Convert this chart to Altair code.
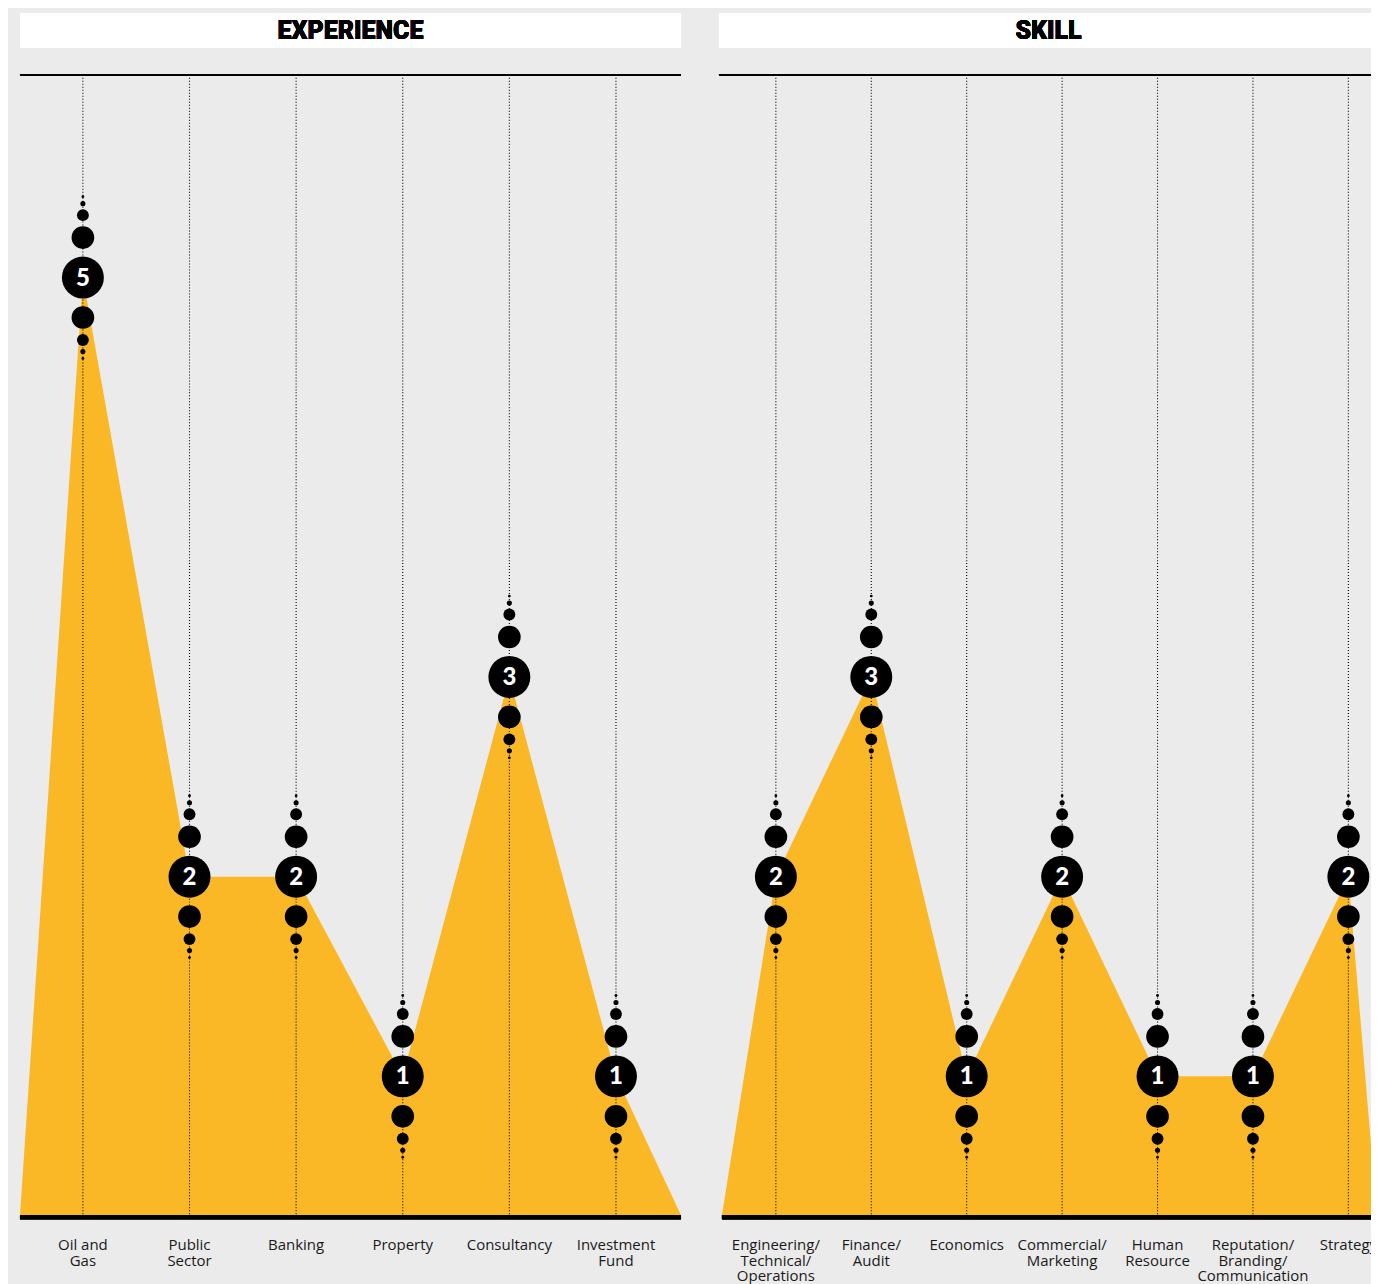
import altair as alt
import pandas as pd

# ---- data ----
EXP_CATS = ["Oil and\nGas", "Public\nSector", "Banking", "Property", "Consultancy", "Investment\nFund"]
EXP_VALS = [5, 2, 2, 1, 3, 1]

SKILL_CATS = ["Engineering/\nTechnical/\nOperations", "Finance/\nAudit", "Economics",
              "Commercial/\nMarketing", "Human\nResource",
              "Reputation/\nBranding/\nCommunication", "Strategy"]
SKILL_VALS = [2, 3, 1, 2, 1, 1, 2]

# ---- styling / layout ----
BG = "#ebebeb"
YELLOW = "#fbb826"
H = 1142
Y_DOMAIN = [0.305, 6.015]
LABEL_FONT = "Open Sans"
MAIN_SIZE = 1765
RINGS = [(40, 515), (62.5, 141), (74, 26), (81, 8)]


def panel(title, cats, vals, width, xdom, left_ext=0, right_ext=0, title_w=None):
    df = pd.DataFrame({"idx": list(range(len(cats))), "cat": cats, "value": vals})
    area_df = pd.concat([
        pd.DataFrame({"idx": [xdom[0]], "cat": [""], "value": [Y_DOMAIN[0]]}),
        df,
        pd.DataFrame({"idx": [xdom[1]], "cat": [""], "value": [Y_DOMAIN[0]]}),
    ], ignore_index=True)

    x = alt.X("idx:Q", scale=alt.Scale(domain=xdom, nice=False, zero=False), axis=None)
    y = alt.Y("value:Q", scale=alt.Scale(domain=Y_DOMAIN, nice=False, zero=False), axis=None)

    base = alt.Chart(df)

    area = alt.Chart(area_df).mark_area(color=YELLOW, opacity=1, clip=True).encode(
        x=x, y=y, y2=alt.value(H))

    dots = base.mark_rule(color="#000", strokeWidth=1.1, strokeDash=[1, 2]).encode(
        x=x, y=alt.value(0), y2=alt.value(H))

    topline = base.mark_rule(color="#000", strokeWidth=1.5).encode(
        x=alt.value(-left_ext), x2=alt.value(width + right_ext), y=alt.value(0))

    baseline = base.mark_rule(color="#000", strokeWidth=4).encode(
        x=alt.value(0), x2=alt.value(width), y=alt.value(H + 2))

    layers = [area, dots, topline, baseline]

    layers.append(base.mark_circle(size=MAIN_SIZE, color="#000", opacity=1).encode(x=x, y=y))
    for off, sz in RINGS:
        for sgn in (-1, 1):
            layers.append(base.mark_circle(size=sz, color="#000", opacity=1, yOffset=sgn * off)
                          .encode(x=x, y=y))

    nums = base.mark_text(font="Lato", fontSize=24, fontWeight=900, color="white",
                          baseline="middle", align="center", dy=1).encode(
        x=x, y=y, text="value:Q")

    labels = base.mark_text(font=LABEL_FONT, fontSize=15, fontWeight=400, color="#1a1a1a",
                            baseline="top", align="center", lineBreak="\n",
                            lineHeight=15.5).encode(
        x=x, y=alt.value(H + 23), text="cat:N")

    bar = base.mark_rect(color="white").encode(
        x=alt.value(-left_ext), x2=alt.value(width + right_ext),
        y=alt.value(-62), y2=alt.value(-27))

    tw = title_w if title_w is not None else width
    ttl = base.mark_text(font="Roboto", fontSize=25, fontWeight=900, color="#000",
                         baseline="middle", align="center").encode(
        x=alt.value(tw / 2 - left_ext), y=alt.value(-44),
        text=alt.value(title))

    layers += [nums, labels, bar, ttl]
    return alt.layer(*layers).properties(width=width, height=H)


left = panel("EXPERIENCE", EXP_CATS, EXP_VALS, 662, [-0.59, 5.61])
# right panel runs past the window edge, as in the cropped original
right = panel("SKILL", SKILL_CATS, SKILL_VALS, 656, [-0.565, 6.30],
              left_ext=3, right_ext=8, title_w=660)

chart = alt.hconcat(left, right, spacing=41, bounds="flush").properties(
    background=BG,
    padding={"left": 10, "top": 4, "right": -15, "bottom": 0},
).configure_view(stroke=None)

chart.save("out.html", embed_options={"renderer": "svg", "actions": False})
